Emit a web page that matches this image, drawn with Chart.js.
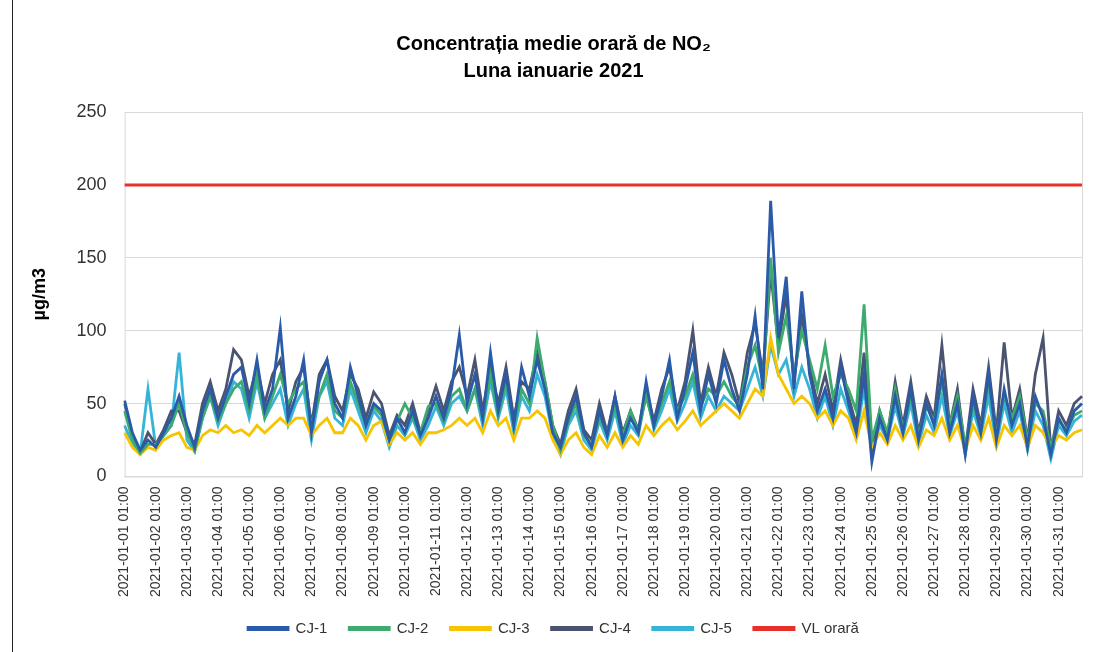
<!DOCTYPE html>
<html>
<head>
<meta charset="utf-8">
<script src="https://cdn.jsdelivr.net/npm/chart.js@4.4.1/dist/chart.umd.min.js"></script>
<style>
  html, body { margin: 0; padding: 0; background: #fff; }
  #wrap { width: 1094px; height: 652px; }
</style>
</head>
<body>
<div id="wrap"><canvas id="myChart"></canvas></div>
<script>
// days of january and the hours sampled every day (6 h step)
const days = ["01","02","03","04","05","06","07","08","09","10","11","12","13","14","15","16",
  "17","18","19","20","21","22","23","24","25","26","27","28","29","30","31"];
const hours = ["01:00","07:00","13:00","19:00"];

// NO2 hourly values, ug/m3
const cj1 = [52,30,18,25, 20,30,40,55, 35,20,45,60, 40,55,70,75, 50,80,45,60, 102,40,55,80,
  30,65,80,50, 40,75,55,35, 50,45,25,40, 30,45,28,40, 55,40,60,97, 50,70,40,85,
  45,70,35,75, 55,80,60,30, 20,40,55,30, 20,45,28,55, 25,40,30,65, 35,55,80,40,
  60,85,45,70, 50,80,60,45, 70,110,60,189, 95,137,60,127, 70,45,60,40, 75,50,30,70,
  10,40,25,55, 30,60,25,50, 35,70,30,50, 15,55,30,70, 25,60,35,50, 20,55,40,15, 40,30,45,50];
const cj2 = [45,25,16,22, 22,28,35,50, 30,18,40,55, 38,50,60,65, 45,70,40,55, 70,50,60,65,
  35,55,70,45, 40,65,50,35, 48,42,25,38, 50,40,30,48, 50,38,55,60, 45,60,40,70,
  42,65,35,60, 50,95,65,35, 18,38,50,28, 22,40,30,48, 28,45,30,55, 35,50,65,45,
  55,70,48,60, 55,65,55,48, 75,90,65,150, 85,110,70,100, 80,60,90,55, 70,60,45,118,
  25,45,30,60, 32,55,28,48, 38,65,35,55, 20,50,32,65, 28,55,40,55, 25,50,45,20, 38,32,42,45];
const cj3 = [30,20,15,20, 18,25,28,30, 20,18,28,32, 30,35,30,32, 28,35,30,35, 40,35,40,40,
  28,35,40,30, 30,40,35,25, 35,38,22,30, 25,30,22,30, 30,32,35,40, 35,40,30,45,
  35,40,25,40, 40,45,40,25, 15,25,30,20, 15,28,20,30, 20,28,22,35, 28,35,40,32,
  38,45,35,40, 45,50,45,40, 50,60,55,95, 70,60,50,55, 50,40,45,35, 45,40,25,45,
  20,30,22,35, 25,35,20,32, 28,40,25,35, 18,35,25,40, 20,35,28,35, 20,35,30,20, 28,25,30,32];
const cj4 = [50,28,17,30, 22,32,45,45, 30,22,50,65, 45,60,87,80, 55,75,50,70, 80,45,65,75,
  35,70,80,55, 45,70,60,40, 58,50,28,42, 35,50,30,45, 62,45,65,75, 55,80,45,75,
  50,75,40,65, 60,85,65,35, 22,45,60,32, 25,50,30,55, 30,45,32,60, 38,60,75,45,
  65,100,50,75, 55,85,70,50, 85,105,70,140, 90,125,65,110, 75,50,70,45, 80,55,35,85,
  15,45,28,65, 35,65,30,55, 40,90,35,60, 18,60,35,75, 30,92,40,60, 25,70,95,18, 45,35,50,55];
const cj5 = [35,22,16,60, 20,28,35,85, 25,17,40,55, 35,50,65,60, 40,65,40,50, 60,35,50,60,
  25,55,65,40, 35,60,45,30, 45,38,20,35, 28,40,25,35, 48,35,50,55, 45,60,35,65,
  40,60,30,55, 45,70,55,28, 15,35,45,25, 18,38,25,45, 22,35,28,58, 32,45,60,38,
  50,65,40,55, 45,55,50,45, 60,75,55,90, 70,80,55,75, 60,40,55,35, 60,45,28,60,
  18,35,25,48, 28,50,22,42, 30,55,28,45, 15,45,28,55, 22,50,30,45, 18,45,35,12, 35,28,38,42];
const vlValue = 200;

const labels = [];
days.forEach(d => hours.forEach(h => labels.push("2021-01-" + d + " " + h)));

// plot frame like the excel chart
const framePlugin = {
  id: 'frame',
  beforeDraw(chart) {
    const c = chart.ctx, a = chart.chartArea;
    c.save();
    c.fillStyle = '#fff';
    c.fillRect(0, 0, chart.width, chart.height);
    c.strokeStyle = '#d9d9d9';
    c.lineWidth = 1;
    c.strokeRect(a.left + 0.5, a.top + 0.5, a.right - a.left, a.bottom - a.top);
    c.strokeStyle = '#222';
    c.beginPath();
    c.moveTo(12.5, 0); c.lineTo(12.5, chart.height);
    c.stroke();
    c.restore();
  }
};

function series(label, data, color, width) {
  return { label: label, data: data, borderColor: color, backgroundColor: color,
    borderWidth: width, pointRadius: 0, tension: 0, fill: false };
}

const ctx = document.getElementById('myChart').getContext('2d');
const chart = new Chart(ctx, {
  type: 'line',
  data: {
    labels: labels,
    datasets: [
      series('CJ-1', cj1, '#2a5ba8', 2.8),
      series('CJ-2', cj2, '#3daa6e', 2.8),
      series('CJ-3', cj3, '#f6c400', 2.8),
      series('CJ-4', cj4, '#4a5470', 2.8),
      series('CJ-5', cj5, '#36b4d8', 2.8),
      { label: 'VL orară', data: [{x: labels[0], y: vlValue}, {x: labels[labels.length - 1], y: vlValue}],
        borderColor: '#e8302a', backgroundColor: '#e8302a', borderWidth: 3, pointRadius: 0 }
    ]
  },
  options: {
    responsive: true,
    maintainAspectRatio: false,
    animation: false,
    layout: { padding: { left: 25, right: 12, top: 18, bottom: 6 } },
    plugins: {
      title: {
        display: true,
        text: ['Concentrația medie orară de NO₂', 'Luna ianuarie 2021'],
        color: '#000',
        font: { family: 'Liberation Sans', size: 20, weight: 'bold', lineHeight: 1.35 },
        padding: { top: 13, bottom: 27 }
      },
      legend: {
        position: 'bottom',
        labels: {
          color: '#333',
          boxWidth: 40,
          boxHeight: 2,
          padding: 22,
          font: { family: 'Liberation Sans', size: 15 }
        }
      },
      tooltip: { enabled: false }
    },
    scales: {
      x: {
        grid: { display: false },
        border: { color: '#d9d9d9' },
        afterFit: function(scale) { scale.paddingRight = 0; },
        ticks: {
          autoSkip: false,
          minRotation: 90,
          maxRotation: 90,
          padding: 2,
          color: '#333',
          font: { family: 'Liberation Sans', size: 14 },
          callback: function(value, index) {
            return index % 4 === 0 ? this.getLabelForValue(value) : '';
          }
        }
      },
      y: {
        min: 0, max: 250,
        grid: { color: '#d9d9d9', drawTicks: false },
        border: { display: false },
        ticks: { stepSize: 50, color: '#333', padding: 18,
          font: { family: 'Liberation Sans', size: 18 } },
        title: { display: true, text: 'µg/m3', color: '#000',
          font: { family: 'Liberation Sans', size: 18, weight: 'bold' }, padding: { bottom: 8 } }
      }
    }
  },
  plugins: [framePlugin]
});
</script>
</body>
</html>
